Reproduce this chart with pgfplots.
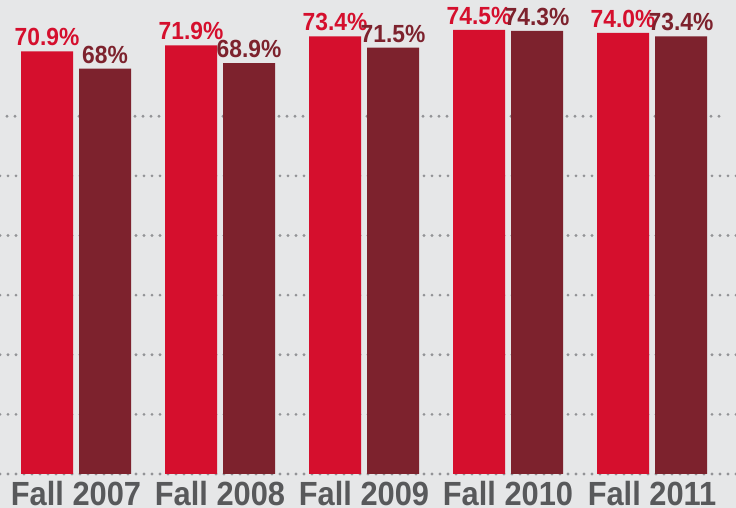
\documentclass[border=0pt]{standalone}
\usepackage{pgfplots}
\pgfplotsset{compat=1.18}
\usepackage{fontspec}
\setmainfont{Liberation Sans}
\newfontfamily\condfont[FakeStretch=0.92]{Liberation Sans}
\definecolor{bg}{HTML}{E6E7E8}
\definecolor{redA}{HTML}{D50F2D}
\definecolor{redB}{HTML}{7D222D}
\definecolor{txt}{HTML}{58595B}
\definecolor{dots}{HTML}{929396}
\begin{document}
\begin{tikzpicture}
\fill[bg] (0,0) rectangle (736pt,508pt);
\begin{axis}[
    at={(0,34pt)}, anchor=south west,
    scale only axis,
    width=736pt, height=474pt,
    xmin=-0.5278, xmax=4.5833,
    ymin=0, ymax=79.5,
    enlargelimits=false,
    clip=false,
    ybar=6pt,
    bar width=52pt,
    axis line style={draw=none},
    tick style={draw=none},
    xtick={0,1,2,3,4},
    xticklabels={Fall 2007, Fall 2008, Fall 2009, Fall 2010, Fall 2011},
    xticklabel style={font=\condfont\fontsize{33.5}{33.5}\selectfont\bfseries, text=txt, anchor=base, inner sep=0pt, yshift=-27pt},
    ytick={0,10,...,60},
    yticklabels={},
    ymajorgrids,
    major grid style={draw=dots, line width=3.1pt, line cap=round, dash pattern=on 0pt off 8pt, shorten <=7pt, shorten >=16pt},
    point meta=explicit symbolic,
    nodes near coords,
    every node near coord/.append style={font=\condfont\fontsize{24.8}{24.8}\selectfont\bfseries, anchor=base, inner sep=0pt, yshift=5.5pt},
]
\addplot[fill=redA, draw=none, nodes near coords style={text=redA}] coordinates {
    (0,70.9) [70.9\%]
    (1,71.9) [71.9\%]
    (2,73.4) [73.4\%]
    (3,74.5) [74.5\%]
    (4,74.0) [74.0\%]
};
\addplot[fill=redB, draw=none, nodes near coords style={text=redB}] coordinates {
    (0,68.0) [68\%]
    (1,68.9) [68.9\%]
    (2,71.5) [71.5\%]
    (3,74.3) [74.3\%]
    (4,73.4) [73.4\%]
};
\end{axis}
\pgfresetboundingbox
\path[use as bounding box] (0,0) rectangle (736pt,508pt);
\end{tikzpicture}
\end{document}
